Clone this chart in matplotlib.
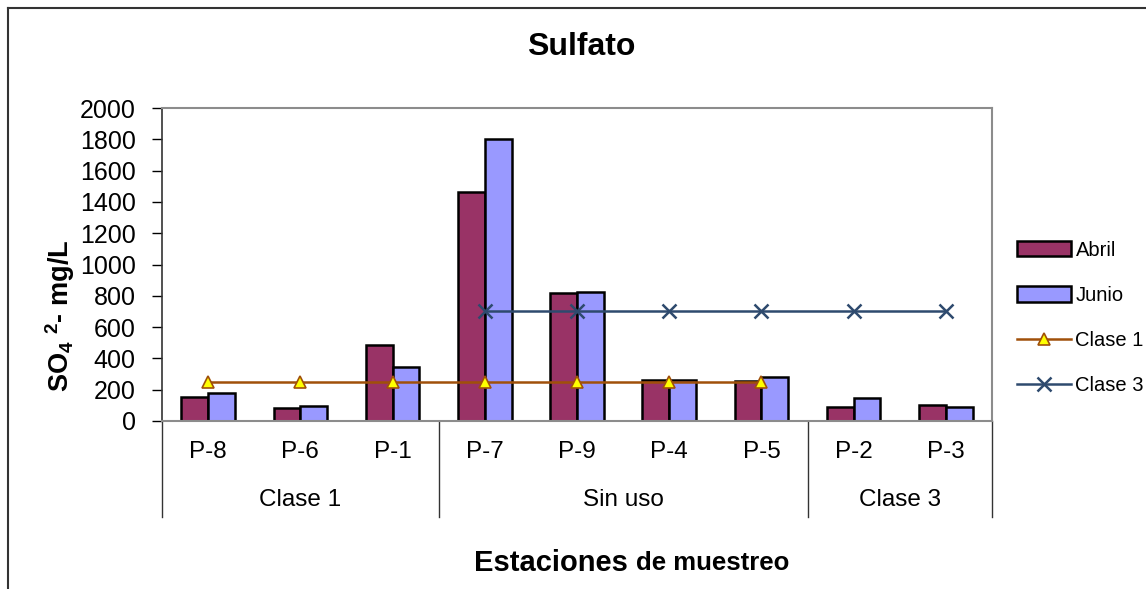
import matplotlib
matplotlib.use("Agg")
import matplotlib.pyplot as plt
import matplotlib.transforms as mtransforms
from matplotlib.lines import Line2D
import numpy as np

plt.rcParams["font.family"] = ["Liberation Sans", "DejaVu Sans"]
plt.rcParams["mathtext.fontset"] = "custom"
plt.rcParams["mathtext.rm"] = "Liberation Sans:bold"
plt.rcParams["mathtext.it"] = "Liberation Sans:bold"
plt.rcParams["mathtext.bf"] = "Liberation Sans:bold"

# datos
estaciones = ["P-8", "P-6", "P-1", "P-7", "P-9", "P-4", "P-5", "P-2", "P-3"]
grupos = ["Clase 1", "Sin uso", "Clase 3"]
n_por_grupo = [3, 4, 2]
abril = [156, 81, 483, 1466, 820, 263, 256, 92, 103]
junio = [181, 96, 344, 1800, 825, 262, 280, 147, 90]
clase1 = [250, 250, 250, 250, 250, 250, 250]          # P-8 .. P-5
clase3 = [700, 700, 700, 700, 700, 700]               # P-7 .. P-3
yticks = [0, 200, 400, 600, 800, 1000, 1200, 1400, 1600, 1800, 2000]

W, H = 1146, 589
fig = plt.figure(figsize=(W / 100, H / 100), dpi=100)
ax = fig.add_axes([162 / W, 1 - 421 / H, (992 - 162) / W, (421 - 108) / H])

x = np.arange(len(estaciones))
bw = 0.29
b1 = ax.bar(x - bw / 2, abril, width=bw, color="#993366", edgecolor="black", linewidth=1.8, label="Abril", zorder=2)
b2 = ax.bar(x + bw / 2, junio, width=bw, color="#9999FF", edgecolor="black", linewidth=1.8, label="Junio", zorder=2)

l1, = ax.plot(x[:len(clase1)], clase1, color="#A0500A", linewidth=1.8, marker="^", markersize=9,
              markerfacecolor="#FFFF00", markeredgecolor="#A0500A", markeredgewidth=1.2, label="Clase 1", zorder=3)
l3, = ax.plot(x[-len(clase3):], clase3, color="#2E4A6E", linewidth=1.8, marker="x", markersize=10,
              markeredgewidth=1.8, label="Clase 3", zorder=3)

ax.set_xlim(-0.5, len(estaciones) - 0.5)
ax.set_ylim(0, 2000)
ax.set_yticks(yticks)
ax.set_yticklabels([str(v) for v in yticks], fontsize=18)
ax.tick_params(axis="y", direction="out", length=7, width=1, pad=12, colors="black")
ax.set_xticks([])

for s in ["top", "right", "bottom"]:
    ax.spines[s].set_color("#8c8c8c")
    ax.spines[s].set_linewidth(1.5)
ax.spines["left"].set_color("#333333")
ax.spines["left"].set_linewidth(1.2)

# eje de categorias en dos niveles
trans = mtransforms.blended_transform_factory(ax.transData, ax.transAxes)
y_est = (421 - 452) / 313
y_grp = (421 - 500) / 313
y_sep = (421 - 517) / 313
for i, e in enumerate(estaciones):
    ax.text(i, y_est, e, transform=trans, ha="center", va="center", fontsize=17.5)
bordes = np.concatenate([[0], np.cumsum(n_por_grupo)]) - 0.5
for b in bordes:
    ax.add_line(Line2D([b, b], [0, y_sep], transform=trans, color="#333333", linewidth=1, clip_on=False))
for g, a, b in zip(grupos, bordes[:-1], bordes[1:]):
    ax.text((a + b) / 2, y_grp, g, transform=trans, ha="center", va="center", fontsize=17.5)

# titulos
fig.text(581 / W, 1 - 47 / H, "Sulfato", ha="center", va="center", fontsize=23, fontweight="bold")
fig.text(60 / W, 1 - 316 / H, r"SO$_{4}$ $^{2}$- mg/L", rotation=90, ha="center", va="center",
         fontsize=19.5, fontweight="bold")
fig.text(636 / W, 1 - 563 / H, "Estaciones ", ha="right", va="center", fontsize=21, fontweight="bold")
fig.text(636 / W, 1 - 563 / H, "de muestreo", ha="left", va="center", fontsize=18.5, fontweight="bold")

ax.legend([b1, b2, l1, l3], ["Abril", "Junio", "Clase 1", "Clase 3"],
          loc="center left", bbox_to_anchor=(1007 / W, 1 - 318 / H), bbox_transform=fig.transFigure,
          frameon=False, fontsize=14.5, handlelength=2.7, handleheight=0.8, handletextpad=0.2,
          labelspacing=1.3, borderpad=0)

# marco del grafico
fig.add_artist(Line2D([8 / W, 8 / W], [0, 1 - 8 / H], transform=fig.transFigure, color="#333333", linewidth=1.5))
fig.add_artist(Line2D([8 / W, 1], [1 - 8 / H, 1 - 8 / H], transform=fig.transFigure, color="#333333", linewidth=1.5))

fig.savefig("out.png", dpi=100)
